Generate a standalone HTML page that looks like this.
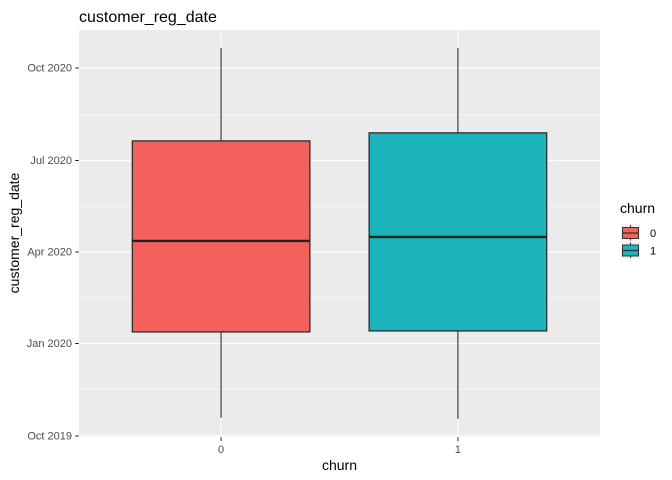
<!DOCTYPE html>
<html><head><meta charset="utf-8"><style>body{margin:0;background:#fff}svg{display:block;font-family:"Liberation Sans",sans-serif}</style></head>
<body>
<svg id="c" width="672" height="480"></svg>
<script>
const categories=["0","1"];
const fills=["#F2615C","#1AB4BA"];
// values as days since 2019-10-01
const whiskerLow=[18,17];
const q1=[103.5,104.5];
const median=[194,198];
const q3=[293.5,301.5];
const whiskerHigh=[386,386];
const yTickDays=[0,92,183,274,366];
const yTickLabels=["Oct 2019","Jan 2020","Apr 2020","Jul 2020","Oct 2020"];
const NS="http://www.w3.org/2000/svg";
const svg=document.getElementById('c');
const L=79,R=600,T=30,B=437;
const y=d=>436-d*(368/366);
const unit=(R-L)/2.2;
const x=i=>L+(i+1-0.4)*unit;
function el(t,a,p){const e=document.createElementNS(NS,t);for(const k in a)e.setAttribute(k,a[k]);(p||svg).appendChild(e);return e;}
const panel=el('rect',{x:L,y:T,width:R-L,height:B-T,fill:'#EBEBEB'});


for(let i=0;i<yTickDays.length-1;i++){const m=(yTickDays[i]+yTickDays[i+1])/2;
const g=el('line',{x1:L,x2:R,y1:y(m),y2:y(m),stroke:'#fff','stroke-width':0.6});

}
yTickDays.forEach((d,i)=>{
const g=el('line',{x1:L,x2:R,y1:y(d),y2:y(d),stroke:'#fff','stroke-width':1.2});


const tk=el('line',{x1:L-4,x2:L,y1:y(d),y2:y(d),stroke:'#333'});


const t=el('text',{x:L-7,y:y(d)+3.5,'text-anchor':'end','font-size':11,fill:'#4D4D4D'});t.textContent=yTickLabels[i];


});
categories.forEach((c,i)=>{
const cx=x(i),w=0.75*unit;
const g=el('line',{x1:cx,x2:cx,y1:T,y2:B,stroke:'#fff','stroke-width':1.2});


const wl=el('line',{x1:cx,x2:cx,y1:y(whiskerHigh[i]),y2:y(whiskerLow[i]),stroke:'#333','stroke-width':1.1});


const b=el('rect',{x:cx-w/2,y:y(q3[i]),width:w,height:y(q1[i])-y(q3[i]),fill:fills[i],stroke:'#222','stroke-width':1.2});


const m=el('line',{x1:cx-w/2,x2:cx+w/2,y1:y(median[i]),y2:y(median[i]),stroke:'#222','stroke-width':2.4});


const tk=el('line',{x1:cx,x2:cx,y1:B,y2:B+4,stroke:'#333'});


const t=el('text',{x:cx,y:B+16,'text-anchor':'middle','font-size':11,fill:'#4D4D4D'});t.textContent=c;


// legend
const ly=224+i*17.5;
const lk=el('rect',{x:621,y:ly,width:19,height:17.5,fill:'#F2F2F2'});


el('line',{x1:630.5,x2:630.5,y1:ly+1,y2:ly+16.5,stroke:'#333'});
const lb=el('rect',{x:622.5,y:ly+3.5,width:16,height:11,fill:fills[i],stroke:'#333'});


el('line',{x1:622.5,x2:638.5,y1:ly+9,y2:ly+9,stroke:'#333','stroke-width':1.3});
const lt=el('text',{x:650,y:ly+13,'font-size':11,fill:'#000'});lt.textContent=c;


});
</script>
<script>
const s=document.getElementById('c');
function tx(txt,a,name){const e=document.createElementNS("http://www.w3.org/2000/svg",'text');for(const k in a)e.setAttribute(k,a[k]);e.textContent=txt;s.appendChild(e);

}
tx('customer_reg_date',{x:79,y:22,'font-size':16,fill:'#000'},'chart-title');
tx('churn',{x:339.5,y:470,'text-anchor':'middle','font-size':14,fill:'#000'},'x-axis-title');
tx('customer_reg_date',{x:0,y:0,'text-anchor':'middle','font-size':14,fill:'#000',transform:'translate(19,233) rotate(-90)'},'y-axis-title');
tx('churn',{x:620,y:213,'font-size':14,fill:'#000'},'legend-title');
</script>
</body></html>
